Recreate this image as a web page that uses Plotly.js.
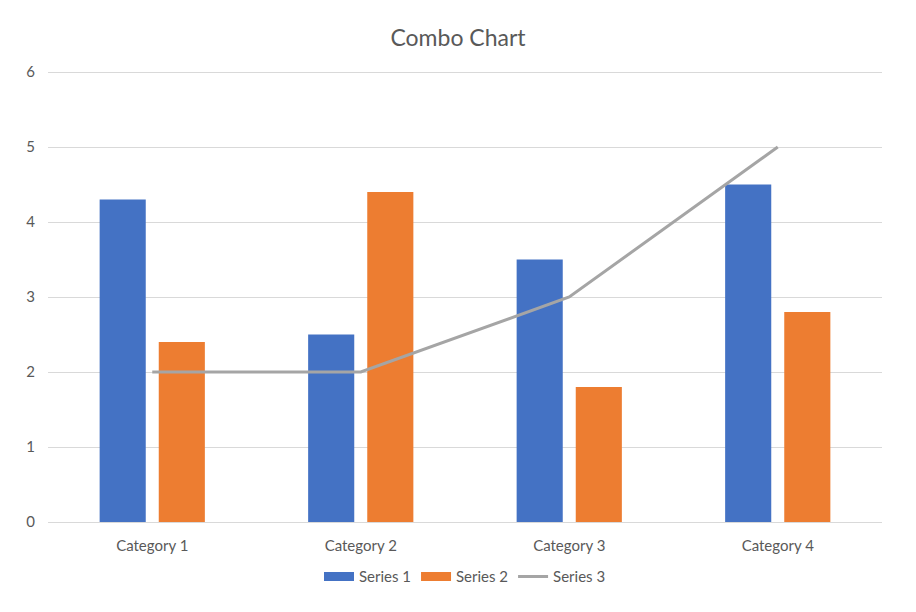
<!DOCTYPE html>
<html>
<head>
<meta charset="utf-8">
<script src="https://cdn.plot.ly/plotly-3.0.1.min.js"></script>
<style>html,body{margin:0;padding:0;background:#fff;}#chart{width:916px;height:612px;}</style>
</head>
<body>
<div id="chart"></div>
<script>
const categories = ["Category 1", "Category 2", "Category 3", "Category 4"];
const series1 = [4.3, 2.5, 3.5, 4.5];
const series2 = [2.4, 4.4, 1.8, 2.8];
const series3 = [2, 2, 3, 5];
const yTicks = [0, 1, 2, 3, 4, 5, 6];
const seriesNames = ["Series 1", "Series 2", "Series 3"];
const seriesColors = ["#4472C4", "#ED7D31", "#A5A5A5"];

const font = "Lato, 'Open Sans', sans-serif";
const data = [
  {type: "bar", name: seriesNames[0], legendgroup: "s1", showlegend: false, x: categories, y: series1, marker: {color: seriesColors[0]}, hoverinfo: "none"},
  {type: "bar", name: seriesNames[1], legendgroup: "s2", showlegend: false, x: categories, y: series2, marker: {color: seriesColors[1]}, hoverinfo: "none"},
  {type: "scatter", mode: "lines", name: seriesNames[2], legendgroup: "s3", showlegend: false, x: categories, y: series3, line: {color: seriesColors[2], width: 3}, hoverinfo: "none"},
  // legend entries (wide swatches like the reference)
  {type: "scatter", mode: "lines", name: seriesNames[0], legendgroup: "s1", x: [categories[0]], y: [null], line: {color: seriesColors[0], width: 9}, hoverinfo: "none"},
  {type: "scatter", mode: "lines", name: seriesNames[1], legendgroup: "s2", x: [categories[0]], y: [null], line: {color: seriesColors[1], width: 9}, hoverinfo: "none"},
  {type: "scatter", mode: "lines", name: seriesNames[2], legendgroup: "s3", x: [categories[0]], y: [null], line: {color: seriesColors[2], width: 3}, hoverinfo: "none"}
];
const layout = {
  width: 916, height: 612,
  paper_bgcolor: "#fff", plot_bgcolor: "#fff",
  margin: {l: 48, r: 34, t: 70, b: 90},
  font: {family: font, color: "#595959", size: 15},
  title: {text: "Combo Chart", font: {family: font, size: 23, color: "#595959"}, x: 0.5, xanchor: "center", y: 1 - 38/612, yanchor: "middle"},
  barmode: "group",
  bargap: 0.433,
  bargroupgap: 0.22,
  showlegend: true,
  legend: {orientation: "h", x: 0.5, xanchor: "center", y: -0.121, yanchor: "middle", font: {size: 15, color: "#595959"}, traceorder: "normal", tracegroupgap: 0},
  xaxis: {type: "category", showgrid: false, showline: true, linecolor: "#D9D9D9", linewidth: 1, ticks: "", ticklabelstandoff: 10, tickfont: {size: 15, color: "#595959"}, fixedrange: true},
  yaxis: {range: [0, 6 + 2/75], tickvals: yTicks, ticktext: yTicks.map(String), showgrid: true, gridcolor: "#D9D9D9", gridwidth: 1, zeroline: false, showline: false, ticks: "", ticklabelstandoff: 12, tickfont: {size: 15, color: "#595959"}, fixedrange: true}
};
Plotly.newPlot("chart", data, layout, {displayModeBar: false, staticPlot: true});
</script>
</body>
</html>
